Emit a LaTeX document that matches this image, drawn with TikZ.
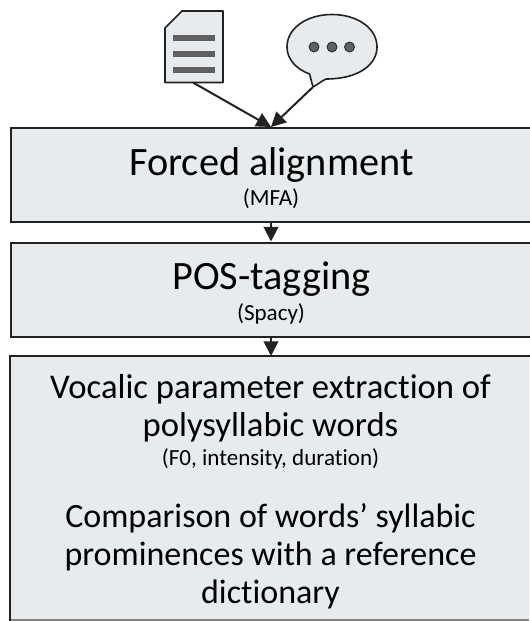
\documentclass[tikz,border=0pt]{standalone}
\usepackage{fontspec}
\setmainfont[Ligatures=NoCommon]{Carlito}
\usetikzlibrary{arrows.meta}
\definecolor{boxfill}{HTML}{E8EBED}
\definecolor{inkline}{HTML}{222222}
\definecolor{glyph}{HTML}{606060}
\tikzset{
  x=0.75pt,y=-0.75pt,
  stage/.style={draw=inkline,fill=boxfill,line width=1.5pt},
  icon/.style={draw=inkline,fill=boxfill,line width=1.2pt,line join=round},
  conn/.style={draw=inkline,line width=1.5pt,-{Triangle[length=11pt,width=11pt]},shorten >=0pt},
  bar/.style={fill=glyph},
  dot/.style={circle,draw=inkline,fill=glyph,line width=0.6pt,minimum size=7.5pt,inner sep=0pt},
  big/.style={font=\fontsize{30.2}{36}\selectfont,inner sep=0pt,text=black,anchor=base},
  mid/.style={font=\fontsize{25.5}{28.5}\selectfont,inner sep=0pt,text=black,align=center,anchor=base},
  midtop/.style={mid,font=\fontsize{26}{28.5}\selectfont},
  small/.style={font=\fontsize{17.3}{20}\selectfont,inner sep=0pt,text=black,anchor=base}
}
\begin{document}
\begin{tikzpicture}
\useasboundingbox (0,0) rectangle (529,621);
\path[fill=white] (0,0) rectangle (529,621);
% stages
\node[stage,anchor=north west,minimum width=410pt,minimum height=70.5pt,inner sep=0pt] (b1) at (10,127) {};
\node[stage,anchor=north west,minimum width=410pt,minimum height=70.5pt,inner sep=0pt] (b2) at (10,241.5) {};
\path[fill=boxfill] (10.8,356.5) rectangle (529,619.5);
\draw[draw=gray,line width=1pt] (10,620) -- (529,620);
\draw[draw=inkline,line width=1.5pt] (10,621.5) -- (10,356) -- (535,356);
\coordinate (b3n) at (271,356);
% icons
\draw[icon] (165,28) -- (182,11) -- (223,11) -- (223,82.5) -- (165,82.5) -- cycle;
\coordinate (doc) at (193,82.5);
\fill[bar] (173,35) rectangle (214.5,41);
\fill[bar] (173,51) rectangle (214.5,57);
\fill[bar] (173,67) rectangle (214.5,73);
\draw[icon] (313,87) .. controls (311,80) and (310.5,77) .. (309.5,74)
  .. controls (296,69) and (287,59) .. (287,47)
  .. controls (287,28) and (307,14.5) .. (332,14.5)
  .. controls (357,14.5) and (377,28) .. (377,47)
  .. controls (377,65) and (358,79) .. (326,79)
  .. controls (320,82) and (317,85) .. (313,87) -- cycle;
\coordinate (bub) at (313,87);
\node[dot] (d1) at (314,47) {};
\node[dot] (d2) at (332,47) {};
\node[dot] (d3) at (349.5,47) {};
% connectors
\coordinate (t1) at (271,127);
\draw[conn] (doc) -- (t1);
\draw[conn] (bub) -- (t1);
\draw[conn] (b1.south -| b3n) -- (b2.north -| b3n);
\draw[conn] (b2.south -| b3n) -- (b3n);
% text
\node[big] (t1a) at (271.5,175) {Forced alignment};
\node[small] (t1b) at (271,205) {(MFA)};
\node[big] (t2a) at (271.5,289) {POS-tagging};
\node[small] (t2b) at (271,320) {(Spacy)};
\node[midtop] (t3a) at (270.5,436) {Vocalic parameter extraction of\\polysyllabic words};
\node[small] (t3b) at (270.5,465) {(F0, intensity, duration)};
\node[mid] (t3c) at (270.5,603) {Comparison of words’ syllabic\\prominences with a reference\\dictionary};
\end{tikzpicture}
\end{document}
